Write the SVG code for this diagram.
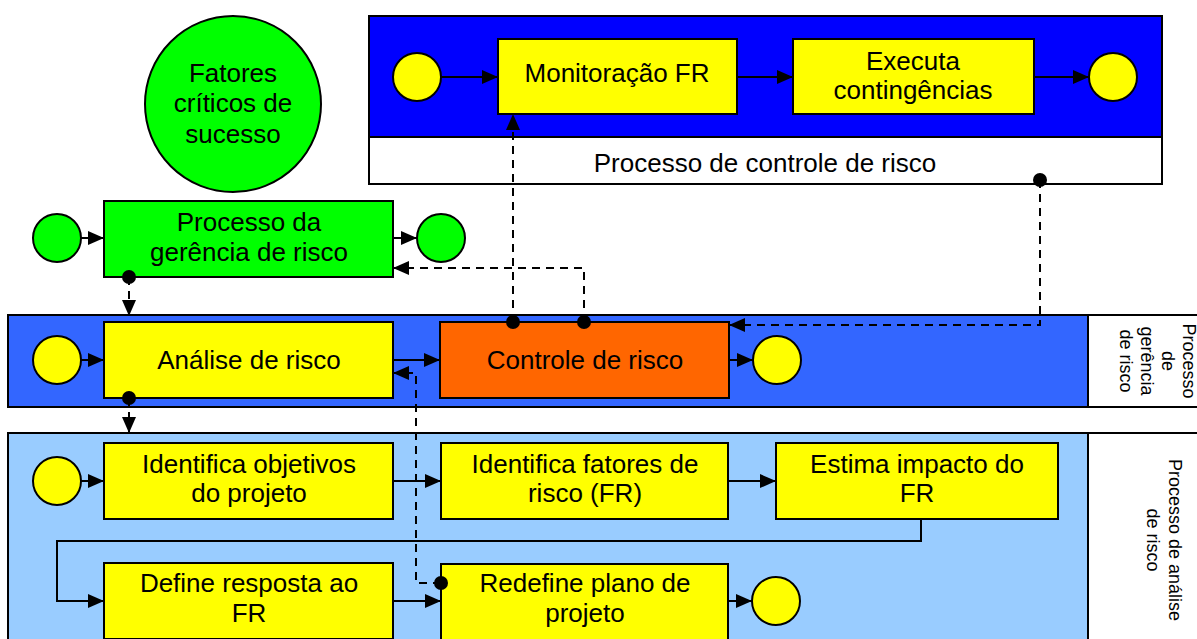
<svg xmlns="http://www.w3.org/2000/svg" width="1197" height="639" viewBox="0 0 1197 639">
<defs>
<style>
text{font-family:"Liberation Sans",Arial,sans-serif;fill:#000}
.t{font-size:26px;text-anchor:middle}
.l{font-size:18px;text-anchor:middle}
.box{stroke:#000;stroke-width:2}
.y{fill:#FFFF00}
.g{fill:#00FF00}
.o{fill:#FF6600}
.lane{stroke:#000;stroke-width:2}
.c{fill:none;stroke:#000;stroke-width:2}
.sol{marker-end:url(#ah)}
.dsh{stroke-dasharray:8 6;marker-end:url(#ah)}
.dot{fill:#000}
</style>
<marker id="ah" markerUnits="userSpaceOnUse" markerWidth="16" markerHeight="14" viewBox="0 0 16 14" refX="16" refY="7" orient="auto">
<path d="M0,0 L16,7 L0,14 Z" fill="#000"/>
</marker>
</defs>
<rect width="1197" height="639" fill="#fff"/>

<g id="lane-controle">
<rect class="lane" x="369" y="16" width="793" height="168" fill="#fff"/>
<rect x="370" y="17" width="791" height="120" fill="#0000FF"/>
<line x1="369" y1="137" x2="1162" y2="137" stroke="#000" stroke-width="2"/>
<text class="t" x="765" y="172">Processo de controle de risco</text>
</g>
<g id="lane-gerencia">
<rect class="lane" x="8" y="315" width="1080" height="92" fill="#3366FF"/>
<rect class="lane" x="1088" y="315" width="120" height="92" fill="#fff"/>
<text class="l" transform="translate(1189,361) rotate(90)"><tspan x="0" y="6">Processo</tspan><tspan x="0" y="27">de</tspan><tspan x="0" y="48">gerência</tspan><tspan x="0" y="69">de risco</tspan></text>
</g>
<g id="lane-analise">
<rect class="lane" x="8" y="433" width="1080" height="220" fill="#99CCFF"/>
<rect class="lane" x="1088" y="433" width="120" height="220" fill="#fff"/>
<text class="l" transform="translate(1175,540) rotate(90)"><tspan x="0" y="6">Processo de análise</tspan><tspan x="0" y="28">de risco</tspan></text>
</g>

<g id="fatores">
<circle class="box g" cx="233" cy="104" r="88"/>
<text class="t" x="233" y="82">Fatores</text>
<text class="t" x="233" y="112">críticos de</text>
<text class="t" x="233" y="143">sucesso</text>
</g>

<g id="ctrl-start"><circle class="box y" cx="417" cy="77" r="24"/></g>
<g id="monitoracao"><rect class="box y" x="498" y="39" width="239" height="75"/><text class="t" x="617" y="82">Monitoração FR</text></g>
<g id="executa"><rect class="box y" x="793" y="39" width="241" height="75"/><text class="t" x="913" y="70">Executa</text><text class="t" x="913" y="99">contingências</text></g>
<g id="ctrl-end"><circle class="box y" cx="1113" cy="77" r="24"/></g>

<g id="ger-start"><circle class="box g" cx="57" cy="238" r="24"/></g>
<g id="processo-gerencia"><rect class="box g" x="104" y="201" width="289" height="76"/><text class="t" x="249" y="231">Processo da</text><text class="t" x="249" y="261">gerência de risco</text></g>
<g id="ger-end"><circle class="box g" cx="441" cy="238" r="24"/></g>

<g id="mid-start"><circle class="box y" cx="57" cy="360" r="24"/></g>
<g id="analise"><rect class="box y" x="104" y="322" width="289" height="76"/><text class="t" x="249" y="369">Análise de risco</text></g>
<g id="controle"><rect class="box o" x="440" y="322" width="289" height="76"/><text class="t" x="585" y="369">Controle de risco</text></g>
<g id="mid-end"><circle class="box y" cx="777" cy="360" r="24"/></g>

<g id="ana-start"><circle class="box y" cx="57" cy="481" r="24"/></g>
<g id="ident-obj"><rect class="box y" x="104" y="443" width="289" height="76"/><text class="t" x="249" y="473">Identifica objetivos</text><text class="t" x="249" y="502">do projeto</text></g>
<g id="ident-fr"><rect class="box y" x="441" y="443" width="287" height="76"/><text class="t" x="585" y="473">Identifica fatores de</text><text class="t" x="585" y="502">risco (FR)</text></g>
<g id="estima"><rect class="box y" x="776" y="443" width="282" height="76"/><text class="t" x="917" y="473">Estima impacto do</text><text class="t" x="917" y="502">FR</text></g>
<g id="define"><rect class="box y" x="104" y="563" width="289" height="76"/><text class="t" x="249" y="592">Define resposta ao</text><text class="t" x="249" y="622">FR</text></g>
<g id="redefine"><rect class="box y" x="441" y="564" width="287" height="76"/><text class="t" x="585" y="592">Redefine plano de</text><text class="t" x="585" y="622">projeto</text></g>
<g id="ana-end"><circle class="box y" cx="776" cy="601" r="24"/></g>

<g id="connectors">
<path class="c sol" d="M441,77 H498"/>
<path class="c sol" d="M737,77 H793"/>
<path class="c sol" d="M1034,77 H1089"/>
<path class="c sol" d="M81,238 H104"/>
<path class="c sol" d="M393,238 H417"/>
<path class="c sol" d="M81,360 H104"/>
<path class="c sol" d="M393,360 H440"/>
<path class="c sol" d="M729,360 H753"/>
<path class="c sol" d="M81,481 H104"/>
<path class="c sol" d="M393,481 H441"/>
<path class="c sol" d="M728,481 H776"/>
<path class="c sol" d="M921,519 V541 H57 V601 H104"/>
<path class="c sol" d="M393,601 H441"/>
<path class="c sol" d="M728,601 H752"/>

<path class="c dsh" d="M129,277 V316"/>
<path class="c dsh" d="M129,398 V433"/>
<path class="c dsh" d="M513,322 V114"/>
<path class="c dsh" d="M584,322 V268 H393"/>
<path class="c dsh" d="M1040,180 V325 H729"/>
<path class="c dsh" d="M441,583 H416 V373 H393"/>

<circle class="dot" cx="129" cy="277" r="7"/>
<circle class="dot" cx="129" cy="398" r="7"/>
<circle class="dot" cx="513" cy="322" r="7"/>
<circle class="dot" cx="584" cy="322" r="7"/>
<circle class="dot" cx="1040" cy="180" r="7"/>
<circle class="dot" cx="441" cy="583" r="7"/>
</g>
</svg>
